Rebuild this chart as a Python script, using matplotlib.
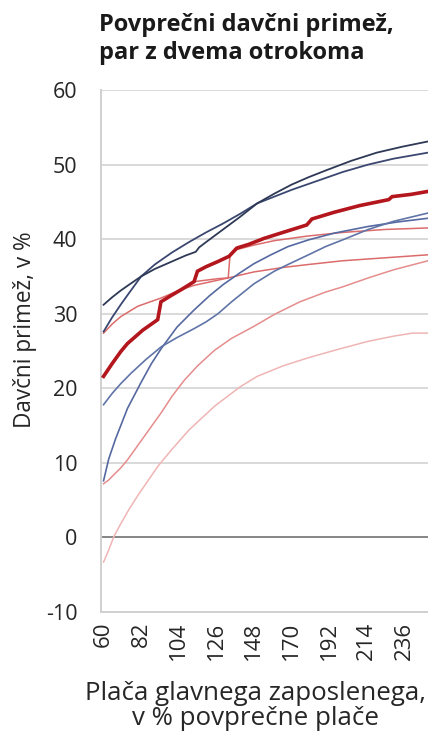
import matplotlib
matplotlib.use("Agg")
import matplotlib.pyplot as plt

plt.rcParams['font.family'] = ['Open Sans', 'DejaVu Sans']

title = "Povprečni davčni primež,\npar z dvema otrokoma"
y_label = "Davčni primež, v %"
x_label = "Plača glavnega zaposlenega,\nv % povprečne plače"
x_ticks = [60, 82, 104, 126, 148, 170, 192, 214, 236]
y_ticks = [-10, 0, 10, 20, 30, 40, 50, 60]

# temna modra, začne pri 31
n1_x = [60, 65, 70, 75, 82, 90, 100, 108, 114, 116, 120, 130, 140, 150, 160, 170, 180, 190, 205, 220, 235, 250]
n1_y = [31.2, 32.2, 33.1, 33.9, 35.0, 36.0, 37.0, 37.8, 38.3, 38.9, 39.6, 41.3, 43.0, 44.8, 46.1, 47.3, 48.3, 49.2, 50.5, 51.6, 52.4, 53.1]
# modra, strma na začetku
n2_x = [60, 65, 70, 75, 82, 90, 100, 110, 120, 130, 140, 150, 160, 170, 185, 200, 215, 230, 250]
n2_y = [27.6, 29.5, 31.2, 32.8, 35.0, 36.6, 38.2, 39.6, 40.9, 42.1, 43.4, 44.8, 45.7, 46.6, 47.8, 49.0, 50.0, 50.8, 51.6]
# svetlejša modra, začne pri 18
l1_x = [60, 65, 70, 76, 85, 94, 103, 113, 120, 127, 135, 148, 160, 168, 180, 190, 200, 215, 230, 250]
l1_y = [17.8, 19.3, 20.6, 22.0, 23.9, 25.6, 26.8, 28.0, 28.9, 30.0, 31.6, 34.0, 35.7, 36.6, 37.9, 39.0, 39.9, 41.3, 42.4, 43.5]
# svetlejša modra, začne pri 7
l2_x = [60, 63, 67, 74, 82, 88, 94, 103, 113, 122, 130, 140, 148, 158, 168, 180, 195, 215, 232, 250]
l2_y = [7.6, 10.5, 13.2, 17.3, 20.8, 23.3, 25.4, 28.2, 30.5, 32.4, 33.9, 35.5, 36.7, 37.9, 39.0, 39.9, 40.8, 41.7, 42.3, 42.8]
# glavna rdeča (debela)
rt_x = [60, 65, 70, 74, 83, 91.7, 93.6, 100, 106, 113, 115, 120, 127, 133.5, 138, 145, 154, 165, 179, 182, 195, 210, 227, 229, 240, 250]
rt_y = [21.6, 23.3, 24.9, 26.0, 27.8, 29.2, 31.6, 32.5, 33.3, 34.3, 35.7, 36.3, 37.0, 37.7, 38.8, 39.3, 40.1, 40.9, 41.9, 42.7, 43.6, 44.5, 45.3, 45.7, 46.0, 46.4]
# rdeča, pod glavno do 113
r3_x = [60, 65, 70, 74, 83, 91.7, 93.6, 100, 106, 113, 120, 127, 133, 134, 138, 148, 160, 179, 200, 225, 250]
r3_y = [21.6, 23.3, 24.9, 26.0, 27.8, 29.2, 31.6, 32.5, 33.3, 34.3, 34.5, 34.7, 34.8, 37.7, 38.6, 39.2, 39.8, 40.4, 40.9, 41.3, 41.5]
# rdeča, začne pri 27
r2_x = [60, 65, 70, 80, 93.6, 105, 113, 133, 148, 165, 180, 200, 225, 250]
r2_y = [27.4, 28.6, 29.6, 31.0, 32.1, 33.2, 33.8, 34.8, 35.6, 36.2, 36.6, 37.1, 37.5, 37.9]
# svetlo rdeča, začne pri 7
r4_x = [60, 63, 66, 70, 74, 79, 84, 89, 94, 100, 107, 115, 125, 135, 148, 160, 175, 190, 200, 215, 230, 250]
r4_y = [7.2, 7.7, 8.4, 9.3, 10.4, 12.0, 13.6, 15.2, 16.8, 18.9, 21.0, 23.0, 25.1, 26.7, 28.3, 29.9, 31.6, 32.9, 33.6, 34.8, 35.9, 37.1]
# najsvetlejša rdeča, začne pod 0
r5_x = [60, 63, 66, 70, 75, 80, 86, 92, 100, 110, 125, 140, 150, 165, 180, 197, 215, 230, 241, 250]
r5_y = [-3.3, -1.7, 0.1, 1.8, 3.8, 5.6, 7.6, 9.6, 11.8, 14.4, 17.6, 20.2, 21.6, 23.0, 24.1, 25.2, 26.3, 27.0, 27.4, 27.4]

fig = plt.figure(figsize=(4.28, 7.41), dpi=100)
ax = fig.add_axes([101/428, 1-612/741, 1-101/428, (612-90)/741])

ax.plot(r5_x, r5_y, color='#efb5b5', lw=1.1, zorder=3)
ax.plot(r4_x, r4_y, color='#e58d8d', lw=1.1, zorder=3)
ax.plot(r2_x, r2_y, color='#dc6b6b', lw=1.1, zorder=3)
ax.plot(r3_x, r3_y, color='#dc6b6b', lw=1.1, zorder=3)
ax.plot(l2_x, l2_y, color='#5669a0', lw=1.2, zorder=4)
ax.plot(l1_x, l1_y, color='#6074a8', lw=1.2, zorder=4)
ax.plot(n2_x, n2_y, color='#3b4770', lw=1.3, zorder=4)
ax.plot(n1_x, n1_y, color='#2e3956', lw=1.3, zorder=4)
ax.plot(rt_x, rt_y, color='#b3161c', lw=2.6, zorder=5, solid_joinstyle='miter')

ax.axhline(0, color='#808080', lw=1.3, zorder=2)

ax.set_xlim(58.5, 250)
ax.set_ylim(-10, 60)
ax.set_yticks(y_ticks)
ax.set_yticklabels([str(v) for v in y_ticks], fontsize=15.5)
ax.set_xticks(x_ticks)
ax.set_xticklabels([str(v) for v in x_ticks], rotation=90, fontsize=16)
ax.grid(axis='y', color='#d9d9d9', lw=1.4, zorder=0)
ax.set_axisbelow(True)
ax.tick_params(axis='both', length=0, colors='#262626')
ax.tick_params(axis='y', pad=17)
ax.tick_params(axis='x', pad=7)
for s in ['top', 'right']:
    ax.spines[s].set_visible(False)
for s in ['left', 'bottom']:
    ax.spines[s].set_color('#d0d0d0')
    ax.spines[s].set_linewidth(1.4)

fig.text(99/428, 1-13/741, title, ha='left', va='top', fontsize=17, fontweight='bold', color='#1a1a1a', linespacing=1.2)
fig.text(25/428, 1-330/741, y_label, rotation=90, ha='center', va='center', fontsize=16.3, color='#262626')
fig.text(256/428, 1-706/741, x_label, ha='center', va='center', fontsize=18.6, color='#262626', linespacing=1.0)

fig.savefig("out.png", dpi=100)
